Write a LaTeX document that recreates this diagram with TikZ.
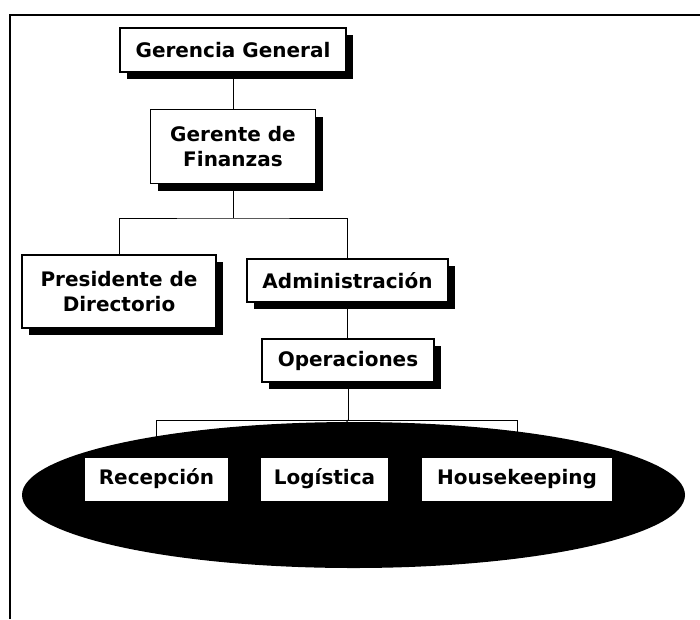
\documentclass[tikz,border=0pt]{standalone}
\usepackage{fontspec}
\setmainfont{DejaVu Sans}
\usetikzlibrary{shapes.geometric, shadows, backgrounds}

\tikzset{
    cargo/.style={draw, line width=1.3pt, fill=white, align=center,
        font=\bfseries\fontsize{20}{25}\selectfont, inner sep=0pt,
        drop shadow={shadow xshift=7pt, shadow yshift=-7pt, fill=black, opacity=1}},
    area/.style={fill=white, font=\bfseries\fontsize{20}{25}\selectfont, inner sep=0pt,
        text height=15pt, text depth=5pt},
    enlace/.style={line width=0.9pt}
}

\begin{document}
\begin{tikzpicture}[x=1pt, y=-1pt]
    \useasboundingbox (0,0) rectangle (700,619);
    % marco
    \draw[line width=1.5pt] (10,619) -- (10,15) -- (700,15);

    % jerarquia
    \node[cargo, minimum width=226pt, minimum height=44pt] (gg) at (233,50) {Gerencia General};
    \node[cargo, minimum width=165pt, minimum height=74pt] (gf) at (233,146.5) {Gerente de\\Finanzas};
    \node[cargo, minimum width=194pt, minimum height=73pt] (pd) at (119,291.5) {Presidente de\\Directorio};
    \node[cargo, minimum width=201pt, minimum height=43pt] (adm) at (347.5,280.5) {Administración};
    \node[cargo, minimum width=172pt, minimum height=43pt] (ops) at (348,360.5) {Operaciones};

    % areas de operaciones
    \node[ellipse, fill=black, minimum width=663pt, minimum height=146pt, inner sep=0pt] (grupo) at (353.5,495) {};
    \node[area, minimum width=143pt, minimum height=43pt] (rec) at (156.5,479) {Recepción};
    \node[area, minimum width=127pt, minimum height=43pt] (log) at (324.5,479) {Logística};
    \node[area, minimum width=190pt, minimum height=43pt] (hk) at (517,479) {Housekeeping};

    % lineas
    \begin{pgfonlayer}{background}
        \draw[enlace] (gg.south) -- (gg.south |- gf.north);
        \coordinate (b1) at (233,218);
        \draw[enlace] (gf.south) -- (b1);
        \draw[enlace] (pd.north) |- (b1) -| (adm.north);
        \draw[enlace] (adm.south) -- (adm.south |- ops.north);
        \coordinate (b2) at (348,420);
        \draw[enlace] (ops.south) -- (b2);
        \draw[enlace] (rec.north) |- (b2) -| (hk.north);
        \draw[enlace] (b2) -- (log.north);
    \end{pgfonlayer}
\end{tikzpicture}
\end{document}
